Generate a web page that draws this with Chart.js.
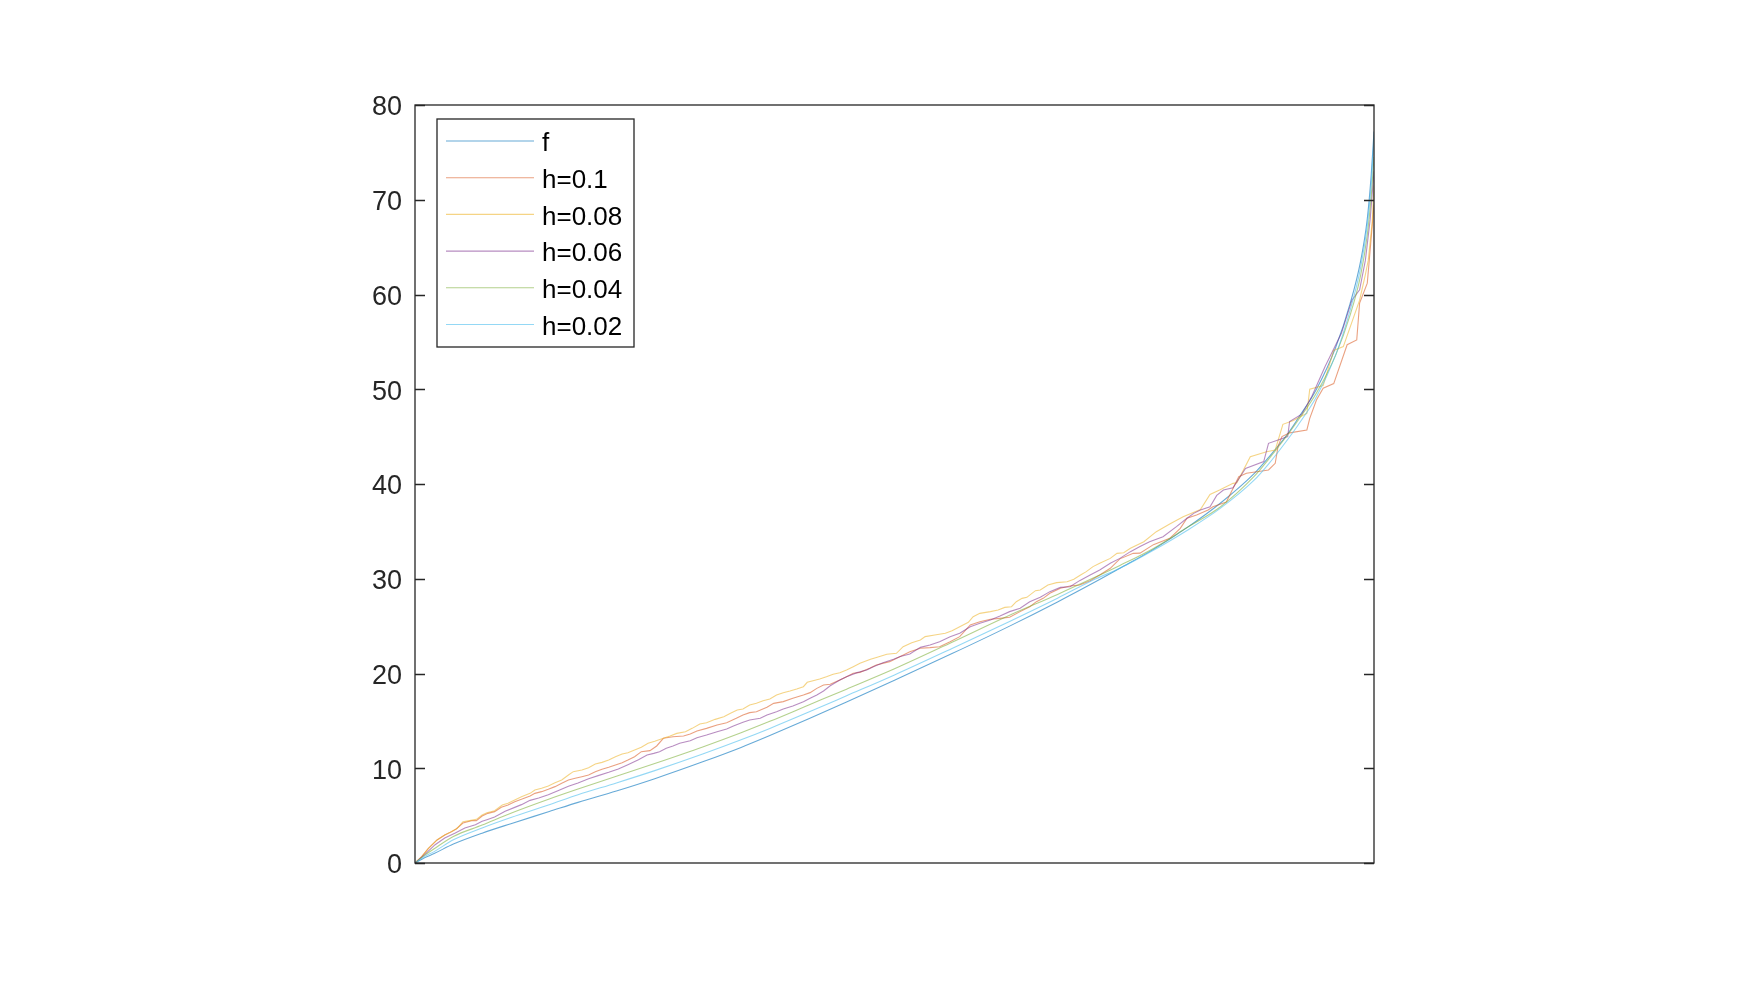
<!DOCTYPE html>
<html><head><meta charset="utf-8">
<script src="https://cdn.jsdelivr.net/npm/chart.js@4/dist/chart.umd.min.js"></script>
<style>html,body{margin:0;padding:0;background:#fff;}#wrap{position:relative;width:1744px;height:1002px;}</style>
</head><body><div id="wrap"><canvas id="c" width="1744" height="1002"></canvas></div>
<script>
// ---- data (x runs 0..1 across the axis, no x tick labels in the original) ----
const seriesNames = ['f', 'h=0.1', 'h=0.08', 'h=0.06', 'h=0.04', 'h=0.02'];
const yTickValues = [0, 10, 20, 30, 40, 50, 60, 70, 80];

const xSmooth = [0,0.01,0.02,0.04,0.07,0.10,0.14,0.17,0.21,0.25,0.30,0.34,0.37,0.41,0.45,0.50,0.56,0.62,0.67,0.71,0.735,0.77,0.805,0.84,0.875,0.89,0.91,0.92,0.94,0.96,0.975,0.986,0.993,0.997,1];
const yF   = [0,0.55,1.0,2.0,3.15,4.15,5.43,6.4,7.6,8.9,10.68,12.2,13.45,15.2,17.0,19.3,22.1,25.0,27.55,29.7,31.1,33.1,35.4,38.0,41.1,42.8,45.3,46.8,50.0,54.4,59.0,63.5,68.0,72.5,77.2];
const yH02 = [0,0.7,1.2,2.45,3.7,4.8,6.15,7.2,8.45,9.75,11.5,13.0,14.2,15.9,17.65,19.85,22.65,25.5,27.95,30.0,31.1,33.0,35.1,37.45,40.4,42.1,44.7,46.1,49.2,53.6,58.3,62.8,67.3,71.5,76.5];
const yH04 = [0,0.8,1.5,2.8,4.0,5.25,6.75,7.8,9.15,10.5,12.25,13.75,14.95,16.65,18.35,20.5,23.3,26.15,28.35,30.2,31.4,33.2,35.4,37.6,40.8,42.6,45.2,46.6,49.6,53.6,57.8,62.0,66.3,70.3,74.5];

const h10 = [[0,0],[0.007,0.67],[0.014,1.55],[0.023,2.43],[0.031,2.96],[0.038,3.31],[0.043,3.59],[0.050,4.22],[0.059,4.47],[0.064,4.47],[0.070,4.96],[0.076,5.24],[0.083,5.42],[0.090,5.88],[0.097,6.12],[0.104,6.47],[0.111,6.72],[0.120,7.07],[0.125,7.35],[0.132,7.53],[0.139,7.78],[0.146,8.06],[0.153,8.41],[0.160,8.76],[0.167,8.94],[0.174,9.11],[0.181,9.29],[0.188,9.64],[0.195,9.89],[0.202,10.1],[0.209,10.34],[0.216,10.59],[0.222,10.87],[0.229,11.22],[0.236,11.75],[0.245,11.86],[0.252,12.35],[0.259,13.16],[0.269,13.33],[0.280,13.4],[0.287,13.61],[0.294,13.93],[0.304,14.21],[0.315,14.56],[0.325,14.81],[0.335,15.27],[0.342,15.62],[0.349,15.87],[0.356,15.97],[0.367,16.43],[0.374,16.85],[0.384,17.03],[0.394,17.38],[0.405,17.73],[0.412,17.98],[0.419,18.43],[0.426,18.79],[0.433,18.86],[0.443,19.31],[0.450,19.66],[0.457,20.02],[0.464,20.12],[0.474,20.55],[0.481,20.9],[0.495,21.25],[0.506,21.8],[0.516,22.3],[0.527,22.66],[0.537,22.73],[0.547,22.83],[0.558,23.36],[0.568,23.89],[0.579,25.12],[0.589,25.47],[0.600,25.72],[0.610,25.82],[0.620,25.93],[0.631,26.53],[0.641,27.05],[0.648,27.58],[0.655,27.93],[0.662,28.46],[0.673,28.99],[0.683,29.23],[0.693,29.34],[0.704,29.8],[0.714,30.4],[0.725,31.1],[0.735,32.1],[0.749,32.68],[0.756,32.7],[0.770,33.6],[0.787,34.27],[0.798,35.32],[0.805,36.4],[0.815,36.73],[0.827,37.26],[0.832,37.6],[0.846,38.1],[0.859,40.77],[0.867,41.13],[0.885,41.4],[0.890,41.48],[0.897,42.18],[0.900,44.0],[0.904,45.0],[0.912,45.4],[0.930,45.7],[0.933,46.93],[0.940,48.87],[0.947,50.1],[0.958,50.6],[0.972,54.7],[0.982,55.2],[0.985,59.1],[0.993,61.2],[0.996,64.7],[1,69.5]];

const h08 = [[0,0],[0.007,0.67],[0.014,1.55],[0.023,2.43],[0.031,2.96],[0.038,3.31],[0.044,3.66],[0.050,4.36],[0.057,4.47],[0.064,4.61],[0.070,5.07],[0.075,5.31],[0.083,5.52],[0.091,6.12],[0.097,6.3],[0.104,6.65],[0.111,7.0],[0.120,7.35],[0.125,7.7],[0.132,7.88],[0.139,8.13],[0.146,8.48],[0.153,8.76],[0.160,9.29],[0.165,9.64],[0.174,9.82],[0.181,10.06],[0.188,10.45],[0.195,10.62],[0.202,10.87],[0.209,11.22],[0.216,11.5],[0.222,11.64],[0.229,11.93],[0.236,12.21],[0.243,12.63],[0.250,12.85],[0.259,13.16],[0.266,13.4],[0.273,13.68],[0.282,13.86],[0.289,14.21],[0.297,14.67],[0.304,14.81],[0.313,15.16],[0.322,15.44],[0.329,15.8],[0.336,16.15],[0.342,16.25],[0.349,16.68],[0.356,16.85],[0.363,17.13],[0.370,17.31],[0.377,17.73],[0.384,17.97],[0.391,18.15],[0.398,18.36],[0.405,18.61],[0.409,19.07],[0.415,19.24],[0.422,19.42],[0.429,19.66],[0.436,19.92],[0.443,20.08],[0.450,20.37],[0.457,20.72],[0.464,21.08],[0.475,21.5],[0.482,21.71],[0.492,22.03],[0.502,22.13],[0.509,22.83],[0.518,23.25],[0.527,23.54],[0.532,23.89],[0.542,24.06],[0.553,24.24],[0.560,24.52],[0.568,24.94],[0.577,25.4],[0.582,26.0],[0.589,26.35],[0.600,26.53],[0.608,26.7],[0.615,26.98],[0.622,27.05],[0.627,27.58],[0.633,27.93],[0.638,28.04],[0.647,28.74],[0.652,28.81],[0.660,29.34],[0.669,29.59],[0.680,29.69],[0.687,29.94],[0.694,30.4],[0.700,30.75],[0.707,31.28],[0.714,31.63],[0.725,32.15],[0.732,32.68],[0.739,32.75],[0.746,33.21],[0.760,33.91],[0.773,34.97],[0.787,35.78],[0.801,36.55],[0.819,37.3],[0.829,38.9],[0.839,39.37],[0.853,40.07],[0.857,40.14],[0.871,42.88],[0.888,43.41],[0.897,43.59],[0.905,46.3],[0.916,46.7],[0.923,47.1],[0.930,47.46],[0.933,50.0],[0.947,50.4],[0.958,54.1],[0.968,54.5],[0.985,59.4],[0.991,62.1],[0.994,63.6],[0.998,67.5],[1,71.5]];

const h06 = [[0,0],[0.010,0.88],[0.021,1.93],[0.031,2.64],[0.042,3.17],[0.052,3.69],[0.063,4.04],[0.070,4.4],[0.075,4.57],[0.083,4.85],[0.094,5.45],[0.104,5.87],[0.111,6.16],[0.120,6.61],[0.129,6.86],[0.139,7.21],[0.149,7.63],[0.160,8.09],[0.170,8.44],[0.181,8.9],[0.191,9.22],[0.202,9.57],[0.212,9.92],[0.222,10.38],[0.233,10.9],[0.242,11.4],[0.249,11.57],[0.255,11.75],[0.262,12.1],[0.269,12.35],[0.276,12.63],[0.287,12.91],[0.294,13.23],[0.304,13.51],[0.315,13.86],[0.325,14.14],[0.332,14.46],[0.342,14.85],[0.349,15.09],[0.360,15.27],[0.367,15.62],[0.377,15.97],[0.384,16.25],[0.394,16.57],[0.405,17.03],[0.412,17.38],[0.419,17.73],[0.426,18.15],[0.433,18.71],[0.443,19.31],[0.450,19.66],[0.461,20.09],[0.471,20.37],[0.478,20.72],[0.488,21.14],[0.499,21.5],[0.506,21.8],[0.516,22.06],[0.527,22.76],[0.537,23.01],[0.547,23.36],[0.558,23.89],[0.568,24.24],[0.579,24.94],[0.589,25.3],[0.600,25.65],[0.610,26.07],[0.620,26.53],[0.631,26.88],[0.641,27.58],[0.652,28.04],[0.662,28.64],[0.673,29.09],[0.683,29.16],[0.693,29.8],[0.704,30.4],[0.714,30.92],[0.725,31.63],[0.735,32.15],[0.746,32.86],[0.756,33.4],[0.766,33.91],[0.780,34.44],[0.794,35.5],[0.805,36.38],[0.812,36.9],[0.819,37.26],[0.829,37.6],[0.836,38.8],[0.843,39.37],[0.853,39.6],[0.866,41.65],[0.885,42.36],[0.890,44.29],[0.900,44.64],[0.910,45.0],[0.912,46.6],[0.925,47.4],[0.935,49.2],[0.949,52.4],[0.966,55.9],[0.977,59.4],[0.985,60.5],[0.991,63.6],[0.996,67.9],[1,73]];

const seriesColors = ['rgba(0,114,189,0.6)','rgba(217,83,25,0.55)','rgba(237,177,32,0.55)','rgba(126,47,142,0.55)','rgba(119,172,48,0.55)','rgba(77,190,238,0.6)'];

// ---- build datasets ----
const zipXY = (xs, ys) => xs.map((x, i) => ({x, y: ys[i]}));
const pairs = arr => arr.map(p => ({x: p[0], y: p[1]}));
const seriesData = [zipXY(xSmooth, yF), pairs(h10), pairs(h08), pairs(h06), zipXY(xSmooth, yH04), zipXY(xSmooth, yH02)];
const smooth = [true, false, false, false, true, true];

const datasets = seriesNames.map((name, i) => ({
  label: name,
  data: seriesData[i],
  borderColor: seriesColors[i],
  backgroundColor: seriesColors[i],
  borderWidth: 1.1,
  pointRadius: 0,
  fill: false,
  tension: 0,
  cubicInterpolationMode: smooth[i] ? 'monotone' : 'default',
  order: seriesNames.length - i
}));

const FONT = "'Liberation Sans', Arial, Helvetica, sans-serif";

const boxPlugin = {
  id: 'matlabBox',
  afterDatasetsDraw(chart) {
    const {ctx, chartArea: a} = chart;
    const y = chart.scales.y;
    ctx.save();
    ctx.strokeStyle = '#262626';
    ctx.lineWidth = 1.3;
    ctx.strokeRect(a.left, a.top, a.right - a.left, a.bottom - a.top);
    y.ticks.forEach(t => {
      const py = Math.round(y.getPixelForValue(t.value)) + 0.5;
      ctx.beginPath();
      ctx.moveTo(a.left, py); ctx.lineTo(a.left + 10, py);
      ctx.moveTo(a.right, py); ctx.lineTo(a.right - 10, py);
      ctx.stroke();
    });
    ctx.restore();
  }
};

const legendPlugin = {
  id: 'matlabLegend',
  afterDraw(chart) {
    const {ctx, chartArea: a} = chart;
    const bx = a.left + 22, by = a.top + 14, bw = 197, bh = 228;
    ctx.save();
    ctx.fillStyle = '#fff';
    ctx.fillRect(bx, by, bw, bh);
    ctx.strokeStyle = '#262626';
    ctx.lineWidth = 1.3;
    ctx.strokeRect(bx, by, bw, bh);
    ctx.font = '26px ' + FONT;
    ctx.textBaseline = 'middle';
    ctx.textAlign = 'left';
    chart.data.datasets.forEach((ds, i) => {
      const ry = by + 22 + i * 36.7;
      ctx.strokeStyle = ds.borderColor;
      ctx.lineWidth = 1.1;
      ctx.beginPath();
      ctx.moveTo(bx + 9, ry); ctx.lineTo(bx + 97, ry);
      ctx.stroke();
      ctx.fillStyle = '#000';
      ctx.fillText(ds.label, bx + 105, ry + 3);
    });
    ctx.restore();
  }
};

new Chart(document.getElementById('c'), {
  type: 'line',
  data: {datasets},
  options: {
    responsive: false,
    animation: false,
    layout: {padding: {left: 0, right: 370, top: 105, bottom: 139}},
    plugins: {legend: {display: false}, tooltip: {enabled: false}},
    scales: {
      x: {type: 'linear', min: 0, max: 1, display: false},
      y: {
        type: 'linear', min: 0, max: 80,
        afterBuildTicks: s => { s.ticks = yTickValues.map(v => ({value: v})); },
        afterFit: s => { s.width = 415; },
        grid: {display: false, drawTicks: false},
        border: {display: false},
        ticks: {font: {size: 27, family: FONT}, color: '#262626', padding: 13, labelOffset: 3}
      }
    }
  },
  plugins: [boxPlugin, legendPlugin]
});
</script>
</body></html>
